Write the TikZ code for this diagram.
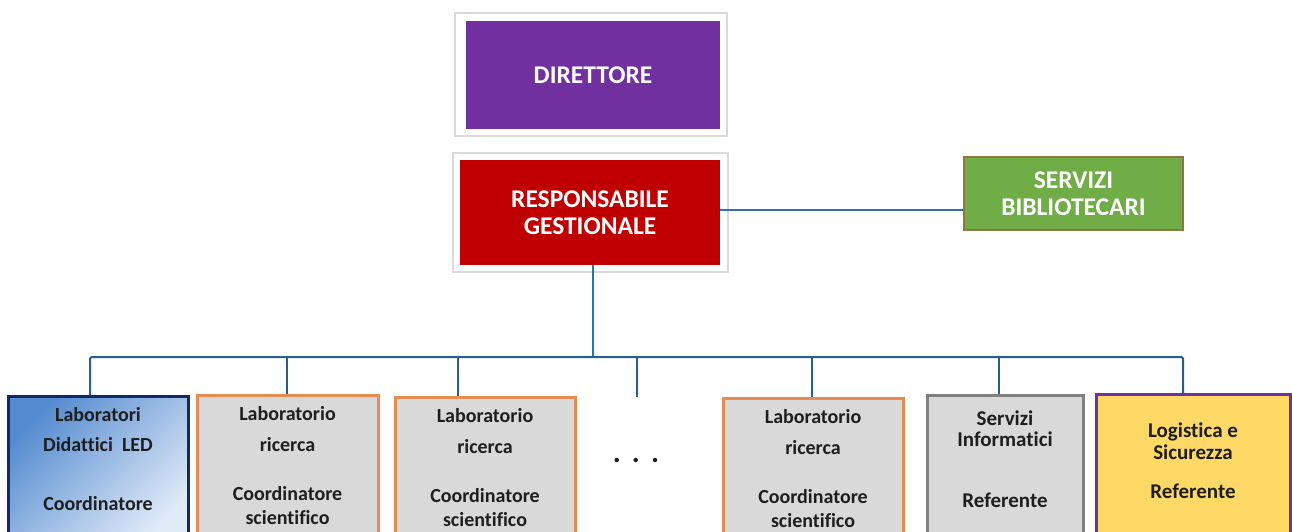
\documentclass[tikz,border=0pt]{standalone}
\usepackage{fontspec}
\setmainfont{Carlito}[Ligatures={NoCommon}]
\definecolor{cpurple}{RGB}{112,48,160}
\definecolor{cred}{RGB}{192,0,0}
\definecolor{cgreen}{RGB}{112,173,71}
\definecolor{cgreenb}{RGB}{140,120,60}
\definecolor{cline}{RGB}{46,112,170}
\definecolor{cnavy}{RGB}{20,40,100}
\definecolor{corange}{RGB}{230,140,80}
\definecolor{cgray}{RGB}{217,217,217}
\definecolor{cgrayb}{RGB}{128,128,128}
\definecolor{cyellow}{RGB}{255,217,102}
\definecolor{ctext}{RGB}{30,30,30}
\definecolor{cblueA}{RGB}{85,140,208}
\definecolor{cblueB}{RGB}{225,235,248}
\newcommand{\boxtxt}[3]{\parbox[t][150pt][t]{#1}{\centering\vspace*{#2}#3}}
\begin{document}
\begin{tikzpicture}[x=1pt,y=-1pt,
  frame/.style={draw=gray!30,line width=2pt,fill=white,inner sep=0pt},
  topbox/.style={inner sep=0pt,text=white,font=\bfseries\fontsize{25.5}{27}\selectfont,align=center},
  lowbox/.style={inner sep=0pt,line width=3pt,anchor=north,text=ctext,font=\bfseries\fontsize{20}{24}\selectfont},
  conn/.style={draw=cline,line width=2.5pt},
  bus/.style={draw=cline!85!black,line width=2pt,rounded corners=2pt}]
\useasboundingbox (0,0) rectangle (1292,531);
\begin{scope}
\clip (0,0) rectangle (1292,531);
% top frames
\node[frame,minimum width=272pt,minimum height=123pt] (fd) at (591,74.5) {};
\node[frame,minimum width=275pt,minimum height=119pt] (fr) at (590.5,212.5) {};
\node[topbox,fill=cpurple,minimum width=254pt,minimum height=108pt] (dir) at (593,75) {DIRETTORE};
\node[topbox,fill=cred,minimum width=260pt,minimum height=105pt] (resp) at (590,212.5) {RESPONSABILE\\GESTIONALE};
\node[topbox,fill=cgreen,draw=cgreenb,line width=1.5pt,minimum width=219pt,minimum height=73pt] (bib) at (1073.5,193.5) {SERVIZI\\BIBLIOTECARI};
% lower boxes
\node[lowbox,draw=cnavy,left color=cblueA,right color=cblueB,shading angle=45] (led) at (98,395) {\boxtxt{180pt}{11pt}{Laboratori\\[6pt]Didattici\ \ LED\\[35pt]Coordinatore}};
\node[lowbox,draw=corange,fill=cgray] (r1) at (287.5,394) {\boxtxt{181pt}{11pt}{Laboratorio\\[7pt]ricerca\\[25pt]Coordinatore\\scientifico}};
\node[lowbox,draw=corange,fill=cgray] (r2) at (485,396) {\boxtxt{180pt}{11pt}{Laboratorio\\[7pt]ricerca\\[25pt]Coordinatore\\scientifico}};
\node[lowbox,draw=corange,fill=cgray] (r3) at (813,397) {\boxtxt{180pt}{11pt}{Laboratorio\\[7pt]ricerca\\[25pt]Coordinatore\\scientifico}};
\node[lowbox,draw=cgrayb,fill=cgray,font=\bfseries\fontsize{21}{24}\selectfont] (inf) at (1005,394) {\boxtxt{156pt}{15pt}{Servizi\\[-3pt]Informatici\\[37pt]Referente}};
\node[lowbox,draw=cpurple,fill=cyellow,font=\bfseries\fontsize{21}{24}\selectfont] (log) at (1193,393) {\boxtxt{194pt}{28pt}{Logistica e\\[-2pt]Sicurezza\\[15pt]Referente}};
\node[text=ctext,font=\bfseries\fontsize{30}{30}\selectfont,anchor=base,inner sep=0pt] (dots) at (636,462) {.\hspace{11pt}.\hspace{11pt}.};
\coordinate (open) at (637,397);
% connectors
\draw[conn] (resp.east |- 0,210) -- (bib.west |- 0,210);
\draw[conn] (resp.south -| 593,0) -- (593,357);
\draw[bus] (led.north -| 90,0) -- (90,357) -- (1183,357) -- (1183,393);
\draw[bus] (287,357) -- (287,394);
\draw[bus] (458,357) -- (458,396);
\draw[bus] (637,357) -- (open);
\draw[bus] (812,357) -- (812,397);
\draw[bus] (999,357) -- (999,394);
\end{scope}
\end{tikzpicture}
\end{document}
